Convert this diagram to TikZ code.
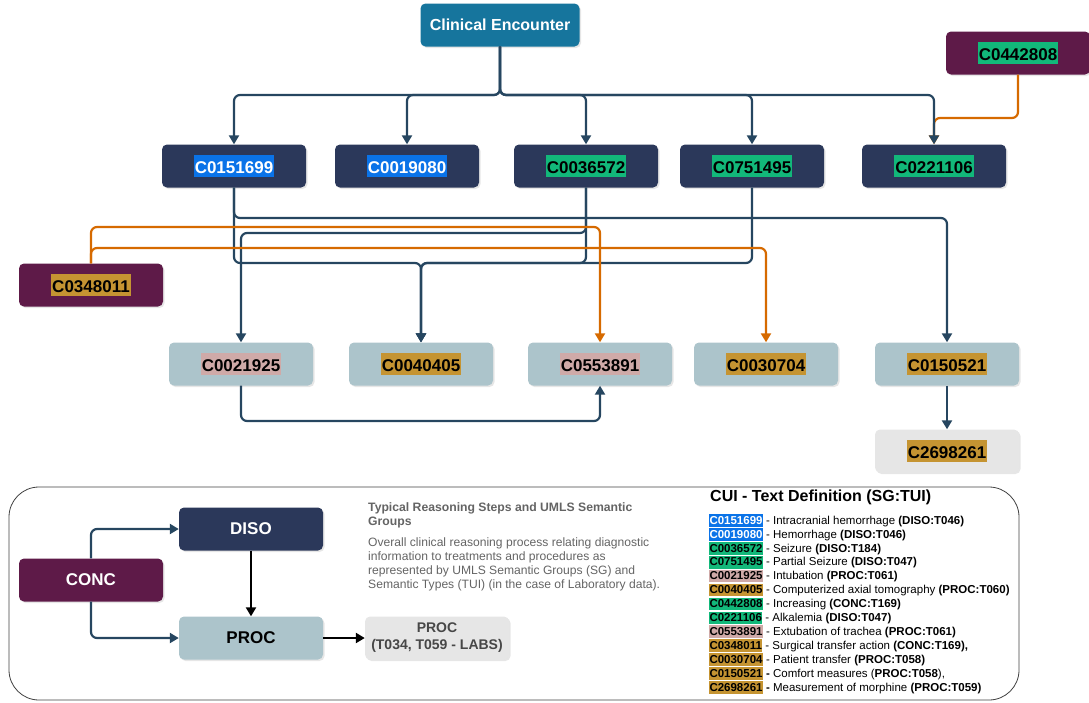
\documentclass[tikz,border=0pt]{standalone}
\usepackage{fontspec}
\setmainfont{Liberation Sans}
\usepackage{tikz}
\usetikzlibrary{arrows.meta, shadows}

\definecolor{encounter}{RGB}{22,117,157}
\definecolor{diso}{RGB}{43,56,90}
\definecolor{conc}{RGB}{94,26,72}
\definecolor{proc}{RGB}{172,196,203}
\definecolor{labs}{RGB}{230,230,230}
\definecolor{linkblue}{RGB}{38,70,96}
\definecolor{linkorange}{RGB}{214,106,0}
\definecolor{hlblue}{RGB}{10,115,232}
\definecolor{hlgreen}{RGB}{18,184,122}
\definecolor{hlpink}{RGB}{207,170,168}
\definecolor{hlgold}{RGB}{197,148,50}
\definecolor{notegray}{RGB}{100,100,100}

\setlength{\fboxsep}{1pt}
\newcommand{\cuistrut}{\rule[-0.14em]{0pt}{1.14em}}
\newcommand{\cui}[3][black]{\colorbox{#2}{\color{#1}\cuistrut #3}}

\tikzset{
  box/.style={rounded corners=5pt, minimum width=144pt, minimum height=43pt,
    inner sep=0pt, font=\fontsize{17}{19.5}\selectfont\bfseries,
    drop shadow={shadow xshift=1.5pt, shadow yshift=-1.5pt, opacity=0.2}},
  encbox/.style={box, fill=encounter, text=white, minimum width=159pt,
    font=\fontsize{16}{19}\selectfont\bfseries},
  disobox/.style={box, fill=diso, text=white},
  concbox/.style={box, fill=conc, text=white},
  procbox/.style={box, fill=proc},
  labbox/.style={box, fill=labs},
  link/.style={draw=linkblue, line width=2.2pt, rounded corners=6pt,
    -{Triangle[length=9pt,width=10pt]}},
  olink/.style={link, draw=linkorange},
  klink/.style={draw=black, line width=2.2pt, -{Triangle[length=9pt,width=10pt]}}
}

\begin{document}
\begin{tikzpicture}[x=1pt, y=-1pt]
  \useasboundingbox (0,0) rectangle (1089,702);

  % top part
  \node[encbox] (ce) at (500,25) {Clinical Encounter};
  \node[disobox] (c0151699) at (234,166) {\cui[white]{hlblue}{C0151699}};
  \node[disobox] (c0019080) at (407,166) {\cui[white]{hlblue}{C0019080}};
  \node[disobox] (c0036572) at (586,166) {\cui{hlgreen}{C0036572}};
  \node[disobox] (c0751495) at (752,166) {\cui{hlgreen}{C0751495}};
  \node[disobox] (c0221106) at (934,166) {\cui{hlgreen}{C0221106}};
  \node[concbox] (c0442808) at (1018,53) {\cui{hlgreen}{C0442808}};
  \node[concbox] (c0348011) at (91,285) {\cui{hlgold}{C0348011}};
  \node[procbox] (c0021925) at (241,364) {\cui{hlpink}{C0021925}};
  \node[procbox] (c0040405) at (421,364) {\cui{hlgold}{C0040405}};
  \node[procbox] (c0553891) at (600,364) {\cui{hlpink}{C0553891}};
  \node[procbox] (c0030704) at (766,364) {\cui{hlgold}{C0030704}};
  \node[procbox] (c0150521) at (947,364) {\cui{hlgold}{C0150521}};
  \node[labbox] (c2698261) at (947,451) {\cui{hlgold}{C2698261}};

  \coordinate (split) at (500,95);
  \coordinate (lvO) at (0,118);
  \coordinate (lvA) at (0,218);
  \coordinate (lvB) at (0,227);
  \coordinate (lvC) at (0,233);
  \coordinate (lvD) at (0,248);
  \coordinate (lvE) at (0,263);
  \coordinate (lvF) at (0,421);

  \draw[olink] (c0442808.south) -- (c0442808.south |- lvO) -| (c0221106.north);
  \foreach \n in {c0151699,c0019080,c0036572,c0751495,c0221106}
    \draw[link] (ce.south) -- (split) -| (\n.north);

  \draw[link] (c0151699.south) -- (c0151699.south |- lvA) -| (c0150521.north);
  \draw[link] (c0036572.south) -- (c0036572.south |- lvC) -| (c0021925.north);
  \foreach \n in {c0151699,c0036572,c0751495}
    \draw[link] (\n.south) -- (\n.south |- lvE) -| (c0040405.north);
  \draw[link] (c0021925.south) -- (c0021925.south |- lvF) -| (c0553891.south);
  \draw[link] (c0150521) -- (c2698261);

  \draw[olink] (c0348011.north) -- (c0348011.north |- lvB) -| (c0553891.north);
  \draw[olink] (c0348011.north) -- (c0348011.north |- lvD) -| (c0030704.north);

  % legend part
  \draw[draw=black!75, line width=0.8pt, rounded corners=30pt] (9,487) rectangle (1019,700);
  \node[concbox] (conc) at (91,580) {CONC};
  \node[disobox] (disog) at (251,529) {DISO};
  \node[procbox] (procg) at (251,638) {PROC};
  \node[labbox, align=center, font=\fontsize{14}{17}\selectfont\bfseries, text=black!72] (labsg) at (437,638) {PROC\\(T034, T059 - LABS)};
  \draw[link] (conc.north) |- (disog.west);
  \draw[link] (conc.south) |- (procg.west);
  \draw[klink] (disog) -- (procg);
  \draw[klink] (procg) -- (labsg);

  \node[anchor=north west, align=left, inner sep=0pt, text=notegray,
    font=\fontsize{12.2}{14}\selectfont\bfseries] (notetitle) at (368,502)
    {Typical Reasoning Steps and UMLS Semantic\\Groups};
  \node[anchor=north west, align=left, inner sep=0pt, text=notegray,
    font=\fontsize{12.1}{13.7}\selectfont] (notebody) at (368,538)
    {Overall clinical reasoning process relating diagnostic\\
     information to treatments and procedures as\\
     represented by UMLS Semantic Groups (SG) and\\
     Semantic Types (TUI) (in the case of Laboratory data).};

  \node[anchor=west, inner sep=0pt, font=\fontsize{16}{19}\selectfont\bfseries] (legtitle) at (710,497)
    {CUI - Text Definition (SG:TUI)};
  \node[anchor=north west, align=left, inner sep=0pt,
    font={\fontsize{11.5}{13.9}\selectfont\setlength{\fboxsep}{0.3pt}%
      \renewcommand{\cuistrut}{\rule[-0.2em]{0pt}{1.05em}}}] (legend) at (709,514)
    {\cui[white]{hlblue}{\textbf{C0151699}} - Intracranial hemorrhage \textbf{(DISO:T046)}\\
     \cui[white]{hlblue}{\textbf{C0019080}} - Hemorrhage \textbf{(DISO:T046)}\\
     \cui{hlgreen}{\textbf{C0036572}} - Seizure \textbf{(DISO:T184)}\\
     \cui{hlgreen}{\textbf{C0751495}} - Partial Seizure \textbf{(DISO:T047)}\\
     \cui{hlpink}{\textbf{C0021925}} - Intubation \textbf{(PROC:T061)}\\
     \cui{hlgold}{\textbf{C0040405}} - Computerized axial tomography \textbf{(PROC:T060)}\\
     \cui{hlgreen}{\textbf{C0442808}} - Increasing \textbf{(CONC:T169)}\\
     \cui{hlgreen}{\textbf{C0221106}} - Alkalemia \textbf{(DISO:T047)}\\
     \cui{hlpink}{\textbf{C0553891}} - Extubation of trachea \textbf{(PROC:T061)}\\
     \cui{hlgold}{\textbf{C0348011}} - Surgical transfer action \textbf{(CONC:T169),}\\
     \cui{hlgold}{\textbf{C0030704}} - Patient transfer \textbf{(PROC:T058)}\\
     \cui{hlgold}{\textbf{C0150521}} \textbf{-} Comfort measures (\textbf{PROC:T058}),\\
     \cui{hlgold}{\textbf{C2698261}} \textbf{-} Measurement of morphine \textbf{(PROC:T059)}};
\end{tikzpicture}
\end{document}
